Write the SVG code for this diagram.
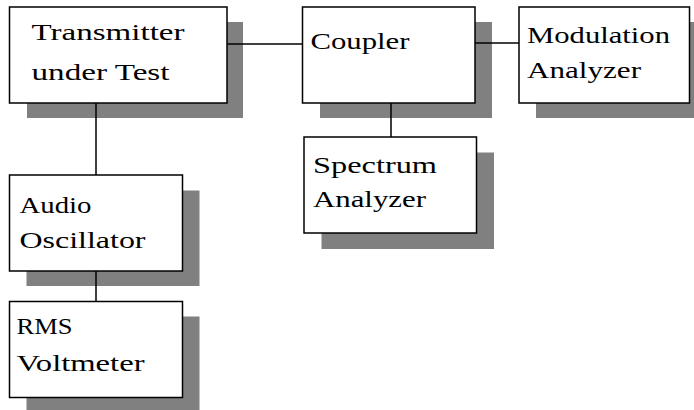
<svg xmlns="http://www.w3.org/2000/svg" width="694" height="410" viewBox="0 0 694 410">
<style>
.shadow{fill:#808080;stroke:none}
.box{fill:#ffffff;stroke:#000000;stroke-width:1.5}
.lbl{font-family:"Liberation Serif","DejaVu Serif",serif;font-size:24px;fill:#000000}
.conn line{stroke:#000000;stroke-width:1.5}
</style>
<rect width="694" height="410" fill="#ffffff"/>
<g id="transmitter">
<rect class="shadow" x="27" y="22" width="216" height="96"/>
<rect class="box" x="9.5" y="7" width="217.5" height="96"/>
<text class="lbl" x="31.5" y="39.5" textLength="153" lengthAdjust="spacingAndGlyphs">Transmitter</text>
<text class="lbl" x="31.5" y="80" textLength="138" lengthAdjust="spacingAndGlyphs">under Test</text>
</g>
<g id="coupler">
<rect class="shadow" x="320" y="22" width="172" height="96"/>
<rect class="box" x="302.5" y="7" width="172.5" height="96"/>
<text class="lbl" x="310.5" y="48.5" textLength="99" lengthAdjust="spacingAndGlyphs">Coupler</text>
</g>
<g id="modulation">
<rect class="shadow" x="536" y="22" width="158" height="96"/>
<rect class="box" x="519" y="7" width="170.5" height="96"/>
<text class="lbl" x="527" y="42.5" textLength="143" lengthAdjust="spacingAndGlyphs">Modulation</text>
<text class="lbl" x="527" y="77.5" textLength="114" lengthAdjust="spacingAndGlyphs">Analyzer</text>
</g>
<g id="spectrum">
<rect class="shadow" x="321.5" y="152.5" width="172.5" height="96.5"/>
<rect class="box" x="304" y="137" width="172.5" height="96"/>
<text class="lbl" x="313" y="173" textLength="124" lengthAdjust="spacingAndGlyphs">Spectrum</text>
<text class="lbl" x="313" y="207" textLength="113" lengthAdjust="spacingAndGlyphs">Analyzer</text>
</g>
<g id="audio">
<rect class="shadow" x="26.5" y="190.5" width="173" height="95.5"/>
<rect class="box" x="9.5" y="175" width="173" height="96"/>
<text class="lbl" x="19.5" y="212.5" textLength="72" lengthAdjust="spacingAndGlyphs">Audio</text>
<text class="lbl" x="19.5" y="247.5" textLength="126" lengthAdjust="spacingAndGlyphs">Oscillator</text>
</g>
<g id="rms">
<rect class="shadow" x="26.5" y="316.5" width="173" height="93.5"/>
<rect class="box" x="9.5" y="301.5" width="173" height="96"/>
<text class="lbl" x="16.5" y="334" textLength="56" lengthAdjust="spacingAndGlyphs">RMS</text>
<text class="lbl" x="16.5" y="370.5" textLength="128" lengthAdjust="spacingAndGlyphs">Voltmeter</text>
</g>
<g id="connectors" class="conn">
<line x1="227" y1="44" x2="302.5" y2="44"/>
<line x1="475" y1="43" x2="519" y2="43"/>
<line x1="391" y1="103" x2="391" y2="137"/>
<line x1="96" y1="103" x2="96" y2="175"/>
<line x1="96" y1="271" x2="96" y2="301.5"/>
</g>
</svg>
